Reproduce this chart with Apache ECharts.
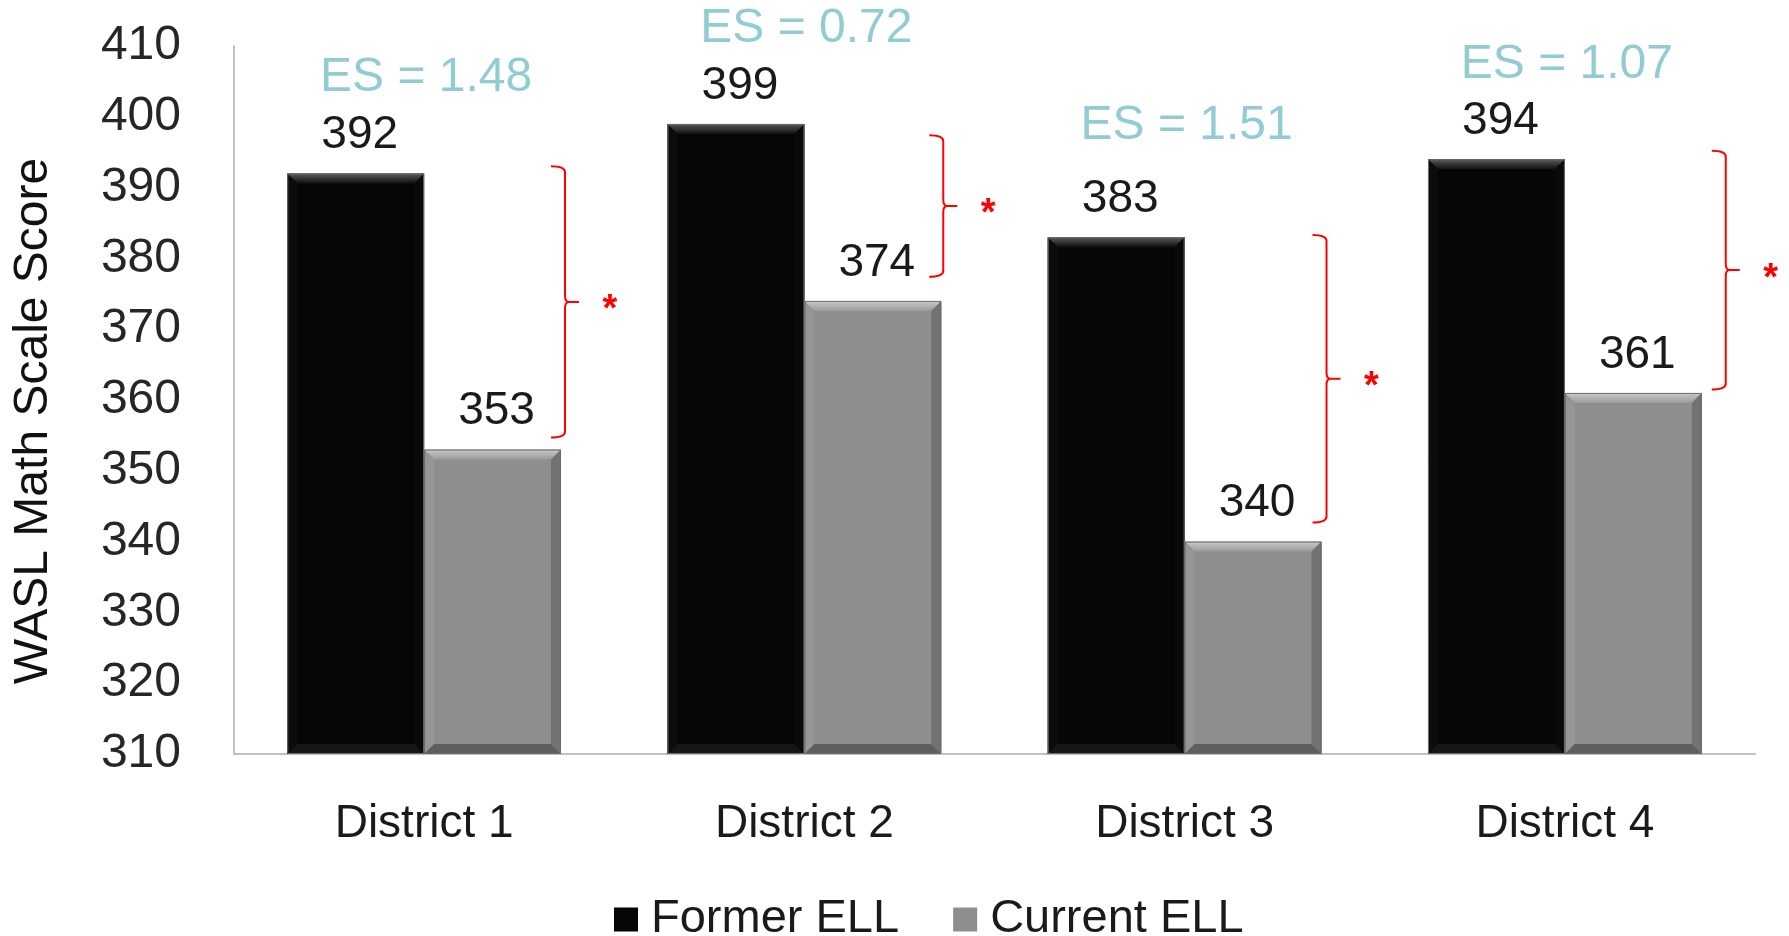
<!DOCTYPE html>
<html>
<head>
<meta charset="utf-8">
<title>WASL Math Scale Score by District</title>
<script src="https://cdn.jsdelivr.net/npm/echarts@6/dist/echarts.min.js"></script>
<style>
  html, body { margin: 0; padding: 0; background: #ffffff; }
  #chart { width: 1789px; height: 936px; }
</style>
</head>
<body>
<div id="chart"></div>
<script>
// ---- data ----
const districts = ['District 1', 'District 2', 'District 3', 'District 4'];
const formerELL = [392, 399, 383, 394];
const currentELL = [353, 374, 340, 361];
const effectSizes = ['1.48', '0.72', '1.51', '1.07'];
// height (in score units) at which each effect-size note sits
const effectSizeLevel = [405.5, 412.5, 398.8, 407.3];
// score span covered by each significance brace
const braceTop = [393, 397.4, 383.3, 395.2];
const braceBottom = [354.7, 377.4, 342.7, 361.5];

// ---- layout / style constants ----
const FONT = 'Liberation Sans, Arial, sans-serif';
const Y_MIN = 310, Y_MAX = 410, Y_STEP = 10;
const BAR_FRAC = 0.36;              // width of one bar as a share of the category band
const BRACE_SHIFT = [4, 2, 5, 24];  // gap between the grey bar and its brace (px)
const SERIES_COLORS = ['#060606', '#8e8e8e'];
const BEVEL = [
  { top0: '#5a5a5a', top1: '#101010', side: '#0c0c0c', right: '#0a0a0a', bottom: '#161616', edge: '#6e6e6e' },
  { top0: '#cacaca', top1: '#9a9a9a', side: '#969696', right: '#727272', bottom: '#5e5e5e', edge: '#6a6a6a' }
];

const chart = echarts.init(document.getElementById('chart'), null, { renderer: 'canvas' });

// bevel highlights drawn over each bar
function bevelItem(params, api) {
  const ci = api.value(0), v = api.value(1), s = api.value(2);
  const band = api.size([1, 0])[0];
  const w = band * BAR_FRAC;
  const p = api.coord([ci, v]);
  const yTop = p[1];
  const yBase = api.coord([ci, Y_MIN])[1];
  const x0 = p[0] - w + s * w, x1 = x0 + w;
  const b = 10;
  const pal = BEVEL[s];
  return {
    type: 'group',
    children: [
      { type: 'polygon', shape: { points: [[x0, yTop], [x1, yTop], [x1 - b, yTop + b], [x0 + b, yTop + b]] },
        style: { fill: new echarts.graphic.LinearGradient(0, 0, 0, 1, [{ offset: 0, color: pal.top0 }, { offset: 1, color: pal.top1 }]) } },
      { type: 'polygon', shape: { points: [[x0, yTop], [x0 + b, yTop + b], [x0 + b, yBase - b], [x0, yBase]] },
        style: { fill: pal.side } },
      { type: 'polygon', shape: { points: [[x1, yTop], [x1 - b, yTop + b], [x1 - b, yBase - b], [x1, yBase]] },
        style: { fill: pal.right } },
      { type: 'polygon', shape: { points: [[x0, yBase], [x0 + b, yBase - b], [x1 - b, yBase - b], [x1, yBase]] },
        style: { fill: pal.bottom } },
      { type: 'rect', shape: { x: x0 + 0.5, y: yTop + 0.5, width: w - 1, height: yBase - yTop - 1 },
        style: { fill: null, stroke: pal.edge, lineWidth: 1 } }
    ]
  };
}

// red curly brace with significance asterisk
function braceItem(params, api) {
  const ci = api.value(0);
  const band = api.size([1, 0])[0];
  const w = band * BAR_FRAC;
  const top = api.coord([ci, api.value(1)]);
  const bot = api.coord([ci, api.value(2)]);
  const x = top[0] + w + BRACE_SHIFT[ci];
  const yT = top[1], yB = bot[1], yM = (yT + yB) / 2;
  const hook = 14, tip = 14, r = 6;
  const path =
    'M' + (x - hook) + ',' + yT +
    ' Q' + x + ',' + yT + ' ' + x + ',' + (yT + r) +
    ' L' + x + ',' + (yM - r) +
    ' Q' + x + ',' + yM + ' ' + (x + 4) + ',' + yM +
    ' L' + (x + tip) + ',' + yM +
    ' M' + (x + 4) + ',' + yM +
    ' Q' + x + ',' + yM + ' ' + x + ',' + (yM + r) +
    ' L' + x + ',' + (yB - r) +
    ' Q' + x + ',' + yB + ' ' + (x - hook) + ',' + yB;
  return {
    type: 'group',
    children: [
      { type: 'path', shape: { pathData: path }, style: { fill: null, stroke: '#ff0000', lineWidth: 2 } },
      { type: 'text', x: x + 45, y: yM + 9,
        style: { text: '*', fill: '#ff0000', font: 'bold 38px ' + FONT, align: 'center', verticalAlign: 'middle' } }
    ]
  };
}

const bevelData = [];
formerELL.forEach((v, i) => bevelData.push([i, v, 0]));
currentELL.forEach((v, i) => bevelData.push([i, v, 1]));

const option = {
  backgroundColor: '#ffffff',
  animation: false,
  textStyle: { fontFamily: FONT },
  grid: { left: 234, right: 34, top: 46, bottom: 182, containLabel: false },
  legend: {
    data: ['Former ELL', 'Current ELL'],
    left: 609,
    top: 891,
    icon: 'rect',
    itemWidth: 24,
    itemHeight: 24,
    itemGap: 54,
    textStyle: { fontSize: 47, color: '#1a1a1a', fontFamily: FONT, lineHeight: 46, padding: [0, 0, 0, 8] }
  },
  graphic: [{
    type: 'text',
    x: 34, y: 421,
    rotation: Math.PI / 2,
    style: { text: 'WASL Math Scale Score', font: '48px ' + FONT, fill: '#111111', align: 'center', verticalAlign: 'middle' }
  }],
  xAxis: {
    type: 'category',
    data: districts,
    axisLine: { show: true, lineStyle: { color: '#c0c0c0', width: 2 } },
    axisTick: { show: false },
    axisLabel: { fontSize: 46, color: '#1a1a1a', fontFamily: FONT, margin: 47, lineHeight: 46 },
    splitLine: { show: false }
  },
  yAxis: {
    type: 'value',
    min: Y_MIN,
    max: Y_MAX,
    interval: Y_STEP,
    axisLine: { show: true, lineStyle: { color: '#c0c0c0', width: 2 } },
    axisTick: { show: false },
    axisLabel: { fontSize: 48, color: '#262626', fontFamily: FONT, margin: 53 },
    splitLine: { show: false }
  },
  series: [
    {
      name: 'Former ELL',
      type: 'bar',
      data: formerELL,
      barWidth: (BAR_FRAC * 100) + '%',
      barGap: '0%',
      itemStyle: { color: SERIES_COLORS[0] },
      label: { show: true, position: 'top', distance: 15, offset: [4, 0], fontSize: 46, color: '#1a1a1a', fontFamily: FONT },
      z: 2
    },
    {
      name: 'Current ELL',
      type: 'bar',
      data: currentELL,
      barWidth: (BAR_FRAC * 100) + '%',
      barGap: '0%',
      itemStyle: { color: SERIES_COLORS[1] },
      label: { show: true, position: 'top', distance: 15, offset: [4, 0], fontSize: 46, color: '#1a1a1a', fontFamily: FONT },
      z: 2
    },
    {
      name: 'bevel',
      type: 'custom',
      renderItem: bevelItem,
      data: bevelData,
      silent: true,
      clip: false,
      z: 3
    },
    {
      name: 'brace',
      type: 'custom',
      renderItem: braceItem,
      data: districts.map((d, i) => [i, braceTop[i], braceBottom[i]]),
      silent: true,
      clip: false,
      z: 4
    },
    {
      name: 'effect size',
      type: 'scatter',
      data: districts.map((d, i) => [i, effectSizeLevel[i]]),
      symbolSize: 0,
      silent: true,
      clip: false,
      label: {
        show: true,
        position: 'inside',
        offset: [2, 0],
        formatter: (p) => 'ES = ' + effectSizes[p.dataIndex],
        fontSize: 48,
        color: '#74bfc6',
        fontFamily: FONT
      },
      z: 5
    }
  ]
};

chart.setOption(option);
</script>
</body>
</html>
